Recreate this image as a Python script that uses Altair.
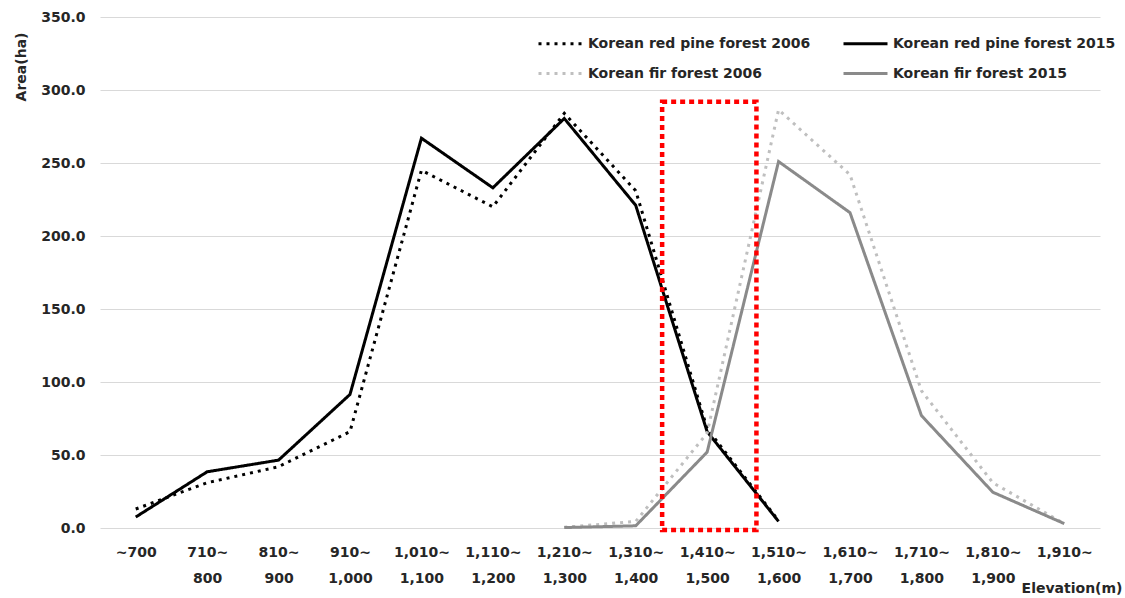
import json
import altair as alt
import pandas as pd

# ---- data ----
top_labels = ["~700", "710~", "810~", "910~", "1,010~", "1,110~", "1,210~",
              "1,310~", "1,410~", "1,510~", "1,610~", "1,710~", "1,810~", "1,910~"]
bottom_labels = ["", "800", "900", "1,000", "1,100", "1,200", "1,300",
                 "1,400", "1,500", "1,600", "1,700", "1,800", "1,900", ""]

pine_2006 = [13, 31, 42, 66, 245, 220, 284, 231, 68, 5,
             None, None, None, None]
pine_2015 = [7.5, 38.5, 46.5, 91.5, 267, 233, 280.5, 221, 66, 4.5,
             None, None, None, None]
fir_2006 = [None, None, None, None, None, None, 0.5, 4.5, 65, 286.5,
            242, 94, 31, 3]
fir_2015 = [None, None, None, None, None, None, 0.3, 1.5, 52, 251,
            216, 77, 24.5, 3]

series_names = ["Korean red pine forest 2006", "Korean red pine forest 2015",
                "Korean fir forest 2006", "Korean fir forest 2015"]
series_values = [pine_2006, pine_2015, fir_2006, fir_2015]
series_colors = ["#000000", "#000000", "#bfbfbf", "#8a8a8a"]
series_dash = [[3, 5], [1, 0], [3, 5], [1, 0]]

y_ticks = [0, 50, 100, 150, 200, 250, 300, 350]

# highlight box (in category-index / area units)
box_x = [7.37, 8.69]
box_y = [-1.4, 292]

FONT = "DejaVu Sans"
TEXT = "#262626"

rows = []
for name, vals in zip(series_names, series_values):
    for i, v in enumerate(vals):
        if v is not None:
            rows.append({"idx": i, "area": v, "series": name})
df = pd.DataFrame(rows)

label_pairs = [[t] if b == "" else [t, b] for t, b in zip(top_labels, bottom_labels)]
label_expr = json.dumps(label_pairs) + "[round(datum.value)]"

x_scale = alt.Scale(domain=[-0.5, 13.5], nice=False, zero=False)
y_scale = alt.Scale(domain=[0, 350], nice=False)

x_axis = alt.Axis(values=list(range(14)), labelExpr=label_expr,
                  title="Elevation(m)", titleX=1022, titleY=60,
                  titleAlign="right", titleAnchor="end",
                  titleBaseline="middle", titleFont=FONT,
                  titleFontWeight="bold", titleFontSize=14,
                  titleColor=TEXT, grid=False, domain=False,
                  ticks=False, labelFont=FONT, labelFontWeight="bold",
                  labelFontSize=14, labelColor=TEXT,
                  labelLineHeight=26, labelBaseline="top",
                  labelPadding=17, labelFlush=False, labelOverlap=False)
y_axis = alt.Axis(values=y_ticks, format=".1f", title="Area(ha)",
                  titleAngle=270, titleX=-79, titleY=15,
                  titleAlign="right", titleAnchor="end",
                  titleBaseline="middle", titleFont=FONT,
                  titleFontWeight="bold", titleFontSize=14,
                  titleColor=TEXT, grid=True, gridColor="#d9d9d9",
                  gridWidth=1, domain=False, ticks=False,
                  labelFont=FONT, labelFontWeight="bold",
                  labelFontSize=14, labelColor=TEXT, labelPadding=15)

legend_spec = dict(
    title=None, orient="none", legendX=449, legendY=15, columns=2,
    direction="horizontal",
    symbolType="M-2.2,0H2.2", symbolSize=400, symbolStrokeWidth=3,
    labelOffset=16, columnPadding=26, rowPadding=11, padding=0,
    labelFont=FONT, labelFontWeight="bold", labelFontSize=14, labelColor=TEXT,
    labelLimit=400,
)

lines = alt.Chart(df).mark_line(strokeWidth=3, strokeCap="butt").encode(
    x=alt.X("idx:Q", scale=x_scale, axis=x_axis),
    y=alt.Y("area:Q", scale=y_scale, axis=y_axis),
    color=alt.Color("series:N",
                    scale=alt.Scale(domain=series_names, range=series_colors),
                    legend=alt.Legend(**legend_spec)),
    strokeDash=alt.StrokeDash("series:N",
                              scale=alt.Scale(domain=series_names, range=series_dash),
                              legend=alt.Legend(**legend_spec)),
)

box_df = pd.DataFrame({"x1": [box_x[0]], "x2": [box_x[1]],
                       "y1": [box_y[0]], "y2": [box_y[1]]})
box = alt.Chart(box_df).mark_rect(fill="transparent", stroke="#ff0000",
                                  strokeWidth=4.5, strokeDash=[5, 4]).encode(
    x=alt.X("x1:Q", scale=x_scale, axis=x_axis),
    x2="x2",
    y=alt.Y("y1:Q", scale=y_scale, axis=y_axis),
    y2="y2",
)

chart = alt.layer(lines, box).properties(
    width=1000, height=511, autosize="none",
    padding={"left": 100, "top": 17, "right": 25, "bottom": 70},
    background="white",
).configure_view(stroke=None)

chart.save("out.html", embed_options={"renderer": "svg", "actions": False})
